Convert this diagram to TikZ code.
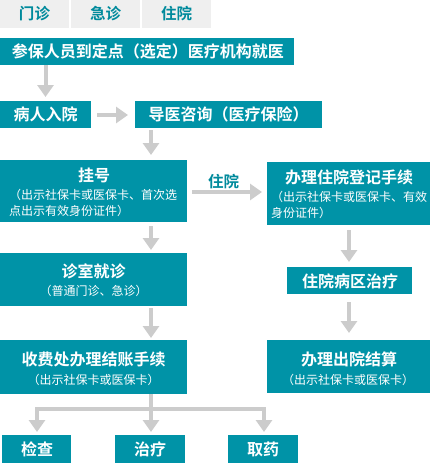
\documentclass[tikz,border=0pt]{standalone}
\usepackage{fontspec}
\setmainfont{Noto Sans CJK SC}[BoldFont={Noto Sans CJK SC Bold}]
\usetikzlibrary{arrows.meta,calc}
\definecolor{boxteal}{HTML}{0093A7}
\definecolor{tabtext}{HTML}{008A9C}
\definecolor{tabbg}{HTML}{EFEFEF}
\definecolor{arrgray}{HTML}{CCCCCC}
\tikzset{
  box/.style={fill=boxteal, draw=none, inner sep=0pt, outer sep=0pt},
  tabbox/.style={fill=tabbg, draw=none, inner sep=0pt, outer sep=0pt, minimum width=69pt, minimum height=28pt,
     text=tabtext, font=\bfseries\fontsize{15.5}{18}\selectfont},
  tit/.style={text=white, inner sep=0pt, font=\bfseries\fontsize{16}{18}\selectfont},
  subt/.style={text=white, inner sep=0pt, font=\fontsize{12}{16}\selectfont},
  conn/.style={draw=arrgray, line width=4pt},
  arr/.style={conn, -{Triangle[width=16pt,length=12pt]}},
}
\begin{document}
\begin{tikzpicture}[x=1pt,y=-1pt]
\useasboundingbox (0,0) rectangle (433,463);
% tabs
\node[tabbox] (tab1) at (34.5,14) {门诊};
\node[tabbox] (tab2) at (105.5,14) {急诊};
\node[tabbox] (tab3) at (176.5,14) {住院};
% boxes
\node[box, minimum width=294pt, minimum height=27pt] (b1) at (147,51.5) {};
\node[box, minimum width=91pt, minimum height=27pt] (b2) at (45.5,114.5) {};
\node[box, minimum width=187pt, minimum height=27pt] (b3) at (228.5,114.5) {};
\node[box, minimum width=187pt, minimum height=62pt] (b4) at (93.5,191) {};
\node[box, minimum width=163pt, minimum height=63pt] (b5) at (348.5,193.5) {};
\node[box, minimum width=187pt, minimum height=53pt] (b6) at (93.5,279.5) {};
\node[box, minimum width=125pt, minimum height=27pt] (b7) at (349.5,280.5) {};
\node[box, minimum width=187pt, minimum height=54pt] (b8) at (93.5,367) {};
\node[box, minimum width=163pt, minimum height=53pt] (b9) at (348.5,366.5) {};
\node[box, minimum width=69pt, minimum height=28pt] (b10) at (36.5,449) {};
\node[box, minimum width=70pt, minimum height=28pt] (b11) at (150,449) {};
\node[box, minimum width=70pt, minimum height=28pt] (b12) at (263,449) {};
% texts
\node[tit] (t1) at (148,51.5) {参保人员到定点（选定）医疗机构就医};
\node[tit] (t2) at (45.5,114.5) {病人入院};
\node[tit] (t3) at (228.5,114.5) {导医咨询（医疗保险）};
\node[tit] (t4) at (94,175) {挂号};
\node[subt, align=left, anchor=west] (s4) at (9,203) {（出示社保卡或医保卡、首次选\\点出示有效身份证件）};
\node[tit] (t5) at (349,177) {办理住院登记手续};
\node[subt, align=left, anchor=west] (s5) at (271,204.5) {（出示社保卡或医保卡、有效\\身份证件）};
\node[tit] (t6) at (93.5,271) {诊室就诊};
\node[subt] (s6) at (93.5,290.5) {（普通门诊、急诊）};
\node[tit] (t7) at (350,281) {住院病区治疗};
\node[tit] (t8) at (93.5,359) {收费处办理结账手续};
\node[subt] (s8) at (93.5,380) {（出示社保卡或医保卡）};
\node[tit] (t9) at (349,359) {办理出院结算};
\node[subt] (s9) at (348,380) {（出示社保卡或医保卡）};
\node[tit] (t10) at (37,449) {检查};
\node[tit] (t11) at (150,449) {治疗};
\node[tit] (t12) at (263,449) {取药};
% helper coordinates
\coordinate (colA) at (151,0);
\coordinate (colB) at (349,0);
\coordinate (row) at (0,192);
\coordinate (fork) at (151,409);
% connectors
\draw[arr] (b2 |- b1.south) -- ($(b2.north)+(0,-4)$);
\draw[arr] ($(b2.east)+(6,0.5)$) -- ($(b3.west)+(-7,0.5)$);
\draw[arr] ($(colA |- b3.south)+(0,2)$) -- ($(colA |- b4.north)+(0,-5)$);
\draw[arr] ($(b4.east |- row)+(5,0)$) -- node[pos=0.45, above=1pt, text=tabtext, font=\bfseries\fontsize{15.5}{18}\selectfont, inner sep=0pt] (lz) {住院} ($(b5.west |- row)+(-5,0)$);
\draw[arr] ($(colA |- b4.south)+(0,4)$) -- ($(colA |- b6.north)+(0,-3)$);
\draw[arr] ($(colB |- b5.south)+(0,5)$) -- ($(colB |- b7.north)+(0,-5)$);
\draw[arr] ($(colA |- b6.south)+(0,2)$) -- ($(colA |- b8.north)+(0,-2)$);
\draw[arr] ($(colB |- b7.south)+(0,8)$) -- ($(colB |- b9.north)+(0,-7)$);
\draw[conn] (colA |- b8.south) -- (fork);
\draw[arr] (fork) -| ($(b10.north)+(0.5,-3)$);
\draw[arr] (fork) -| ($(b12.north)+(1,-3)$);
\draw[arr] (fork) -- ($(fork |- b11.north)+(0,-3)$);
\end{tikzpicture}
\end{document}
